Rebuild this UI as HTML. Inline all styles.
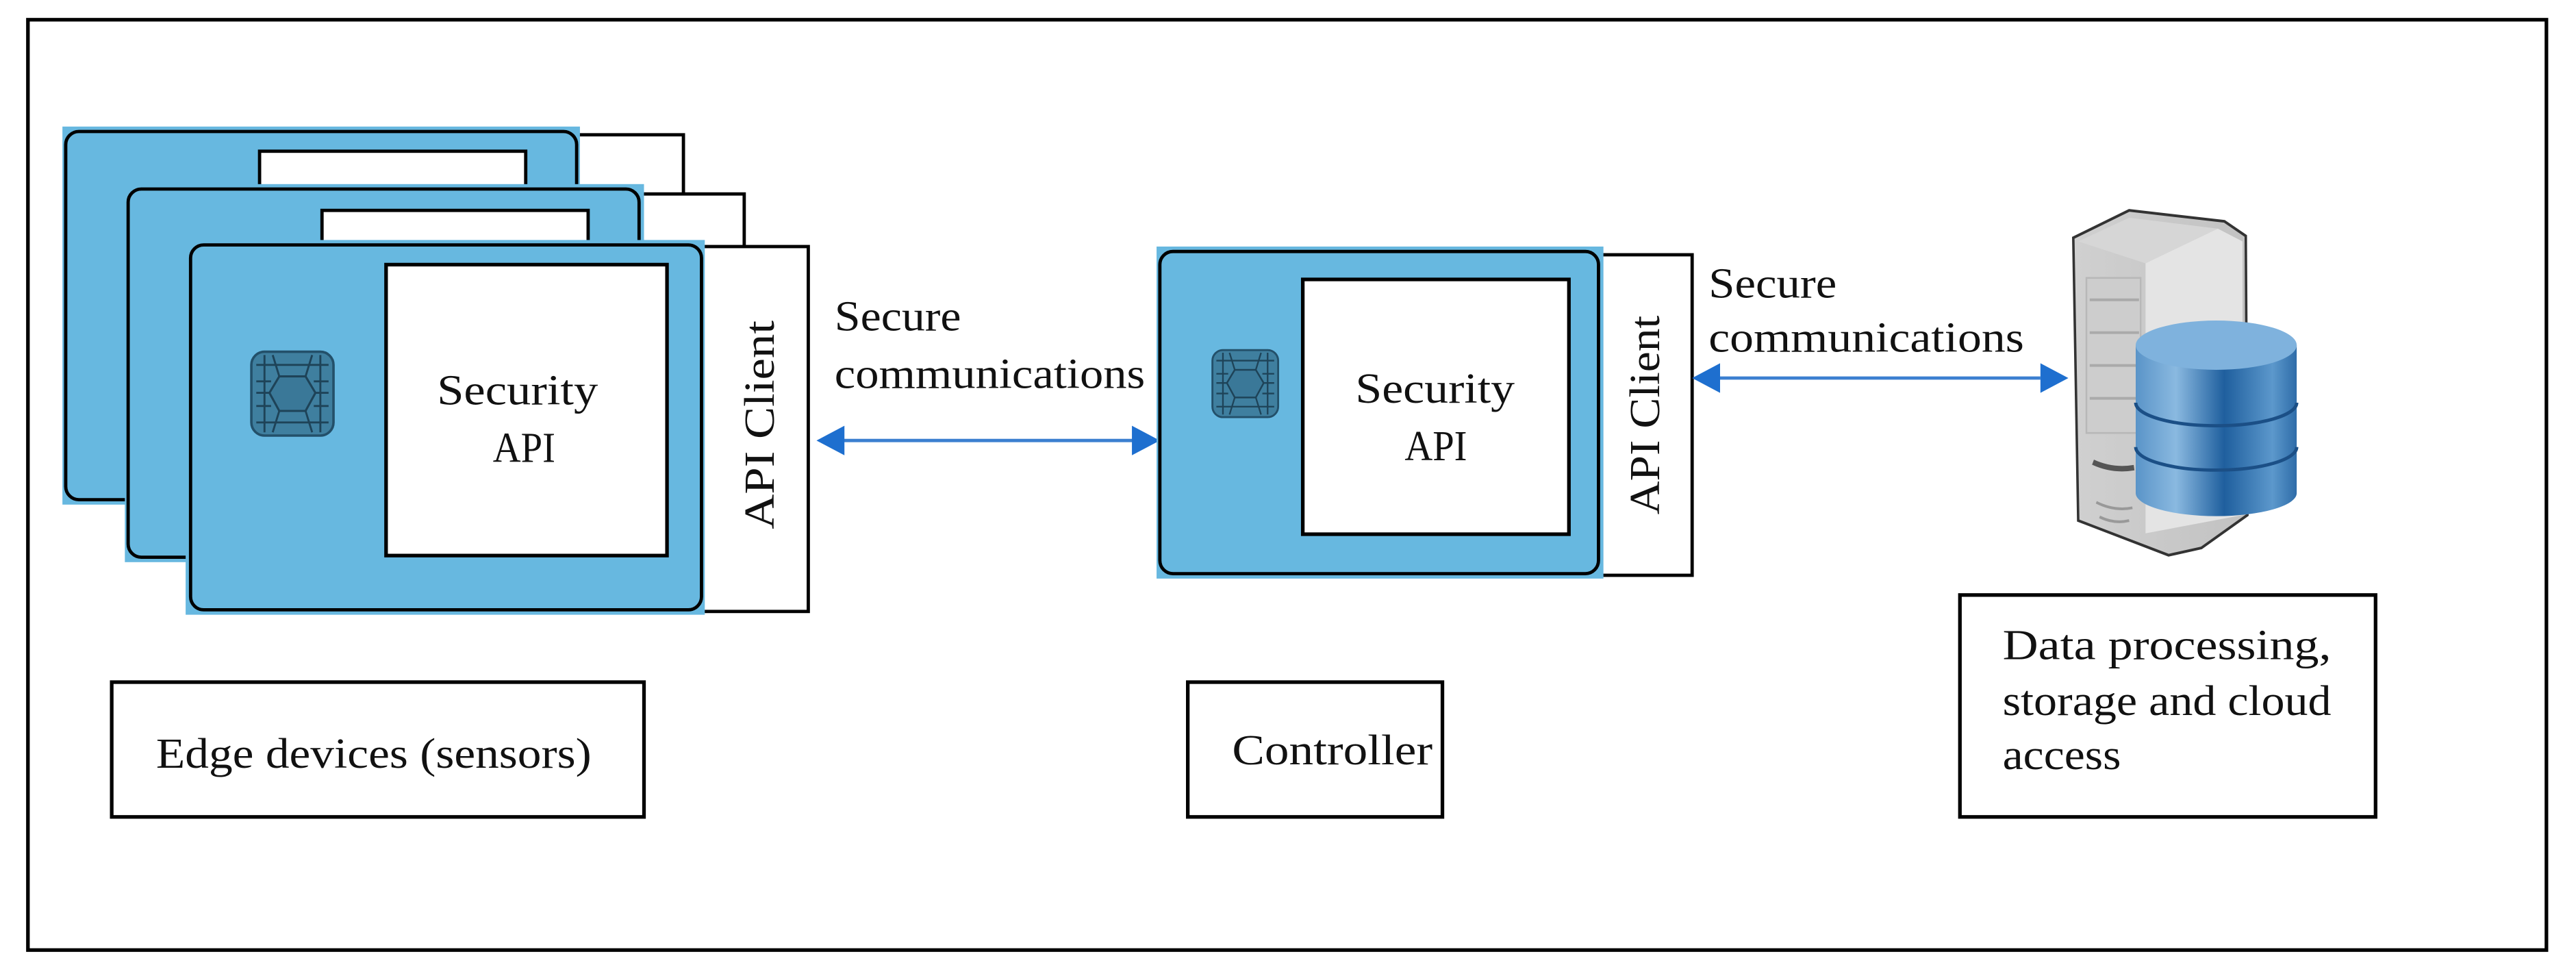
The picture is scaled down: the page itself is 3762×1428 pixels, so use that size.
<!DOCTYPE html>
<html><head><meta charset="utf-8"><style>
html,body{margin:0;padding:0;background:#fff;}
svg{display:block;}
text{font-family:"Liberation Serif",serif;fill:#111;}
</style></head><body>
<svg width="3762" height="1428" viewBox="0 0 1568 595" preserveAspectRatio="none" xmlns="http://www.w3.org/2000/svg">
<defs>
<g id="chip">
<rect x="0" y="0" width="50" height="51" rx="8" fill="#3f7f9f" stroke="#23506a" stroke-width="1.5"/>
<polygon points="17,15 33,15 39,25 33,36 17,36 11,25" fill="#3a7898" stroke="#1e4358" stroke-width="1.3"/>
<path d="M3,8 H47 M3,18 H12 M38,18 H47 M3,25 H11 M39,25 H47 M3,33 H12 M38,33 H47 M3,43 H47 M17,15 L13,2 M33,15 L37,2 M17,36 L13,49 M33,36 L37,49 M8,2 V49 M42,2 V49" stroke="#1e4358" stroke-width="1.2" fill="none"/>
</g>
<linearGradient id="srv" x1="0" x2="1"><stop offset="0" stop-color="#d0d0d0"/><stop offset="1" stop-color="#c2c2c2"/></linearGradient>
<linearGradient id="dbg" x1="0" x2="1"><stop offset="0" stop-color="#5a94c8"/><stop offset="0.25" stop-color="#8ab9e0"/><stop offset="0.55" stop-color="#1f5f9e"/><stop offset="0.85" stop-color="#5c98cc"/><stop offset="1" stop-color="#2e6ca8"/></linearGradient>
</defs>
<rect x="17" y="12" width="1533" height="566" fill="none" stroke="#000" stroke-width="2.2"/>

<rect x="350" y="82" width="66" height="60" fill="#fff" stroke="#000" stroke-width="2"/>
<rect x="38" y="77" width="315" height="230" fill="#67b8e0"/>
<rect x="40" y="80" width="311" height="224" rx="8" fill="#67b8e0" stroke="#000" stroke-width="2"/>
<rect x="158" y="92" width="162" height="40" fill="#fff" stroke="#000" stroke-width="2"/>
<rect x="388" y="118" width="65" height="60" fill="#fff" stroke="#000" stroke-width="2"/>
<rect x="76" y="112" width="316" height="230" fill="#67b8e0"/>
<rect x="78" y="115" width="311" height="224" rx="8" fill="#67b8e0" stroke="#000" stroke-width="2"/>
<rect x="196" y="128" width="162" height="40" fill="#fff" stroke="#000" stroke-width="2"/>
<rect x="427" y="150" width="65" height="222" fill="#fff" stroke="#000" stroke-width="2"/>
<rect x="113" y="146" width="316" height="228" fill="#67b8e0"/>
<rect x="116" y="149" width="311" height="222" rx="8" fill="#67b8e0" stroke="#000" stroke-width="2"/>
<rect x="235" y="161" width="171" height="177" fill="#fff" stroke="#000" stroke-width="2.2"/>
<use href="#chip" x="153" y="214"/>
<text x="266" y="246" font-size="26" textLength="98" lengthAdjust="spacingAndGlyphs">Security</text>
<text x="300" y="281" font-size="26" textLength="38" lengthAdjust="spacingAndGlyphs">API</text>
<text transform="translate(471,322) rotate(-90)" font-size="26" textLength="127" lengthAdjust="spacingAndGlyphs">API Client</text>

<text x="508" y="201" font-size="26" textLength="77" lengthAdjust="spacingAndGlyphs">Secure</text>
<text x="508" y="236" font-size="26" textLength="189" lengthAdjust="spacingAndGlyphs">communications</text>
<line x1="510" y1="268" x2="690" y2="268" stroke="#3b7fd0" stroke-width="2"/>
<polygon points="497,268 514,259 514,277" fill="#1e6fcf"/>
<polygon points="706,268 689,259 689,277" fill="#1e6fcf"/>

<rect x="973" y="155" width="57" height="195" fill="#fff" stroke="#000" stroke-width="2"/>
<rect x="704" y="150" width="272" height="202" fill="#67b8e0"/>
<rect x="706" y="153" width="267" height="196" rx="8" fill="#67b8e0" stroke="#000" stroke-width="2"/>
<rect x="793" y="170" width="162" height="155" fill="#fff" stroke="#000" stroke-width="2.2"/>
<use href="#chip" transform="translate(738,213) scale(0.8)"/>
<text x="825" y="245" font-size="26" textLength="97" lengthAdjust="spacingAndGlyphs">Security</text>
<text x="855" y="280" font-size="26" textLength="38" lengthAdjust="spacingAndGlyphs">API</text>
<text transform="translate(1010,313) rotate(-90)" font-size="26" textLength="121" lengthAdjust="spacingAndGlyphs">API Client</text>

<text x="1040" y="181" font-size="26" textLength="78" lengthAdjust="spacingAndGlyphs">Secure</text>
<text x="1040" y="214" font-size="26" textLength="192" lengthAdjust="spacingAndGlyphs">communications</text>
<line x1="1045" y1="230" x2="1242" y2="230" stroke="#3b7fd0" stroke-width="2"/>
<polygon points="1030,230 1047,221 1047,239" fill="#1e6fcf"/>
<polygon points="1259,230 1242,221 1242,239" fill="#1e6fcf"/>

<g transform="translate(0,128) scale(1,1.11) translate(0,-123)">
<path d="M1262,138 L1296,123 L1354,129 L1367,137 L1368,290 L1340,308 L1320,312 L1265,293 Z" fill="url(#srv)" stroke="#333" stroke-width="1.5"/>
<path d="M1265,140 L1296,127 L1350,133 L1306,152 Z" fill="#d6d6d6"/>
<path d="M1306,152 L1350,133 L1365,140 L1365,290 L1306,300 Z" fill="#e4e4e4"/>
<rect x="1270" y="160" width="33" height="85" fill="#cdcdcd" stroke="#b8b8b8"/>
<path d="M1272,172 H1302 M1272,190 H1302 M1272,208 H1302 M1272,226 H1302" stroke="#aaa" stroke-width="1.5"/>
<path d="M1274,261 Q1286,266 1299,264" stroke="#555" stroke-width="3" fill="none"/>
<path d="M1276,283 Q1287,288 1298,286 M1278,291 Q1287,295 1296,293" stroke="#999" stroke-width="1.5" fill="none"/>
</g>
<path d="M1300,210 V300 A49,14 0 0 0 1398,300 V210 Z" fill="url(#dbg)"/>
<ellipse cx="1349" cy="210" rx="49" ry="15" fill="#7fb2dd"/>
<path d="M1300,245 A49,14 0 0 0 1398,245 M1300,272 A49,14 0 0 0 1398,272" stroke="#1b4f86" stroke-width="2" fill="none"/>

<rect x="68" y="415" width="324" height="82" fill="#fff" stroke="#000" stroke-width="2.2"/>
<text x="95" y="467" font-size="26" textLength="265" lengthAdjust="spacingAndGlyphs">Edge devices (sensors)</text>
<rect x="723" y="415" width="155" height="82" fill="#fff" stroke="#000" stroke-width="2.2"/>
<text x="750" y="465" font-size="26" textLength="122" lengthAdjust="spacingAndGlyphs">Controller</text>
<rect x="1193" y="362" width="253" height="135" fill="#fff" stroke="#000" stroke-width="2.2"/>
<text x="1219" y="401" font-size="26" textLength="200" lengthAdjust="spacingAndGlyphs">Data  processing,</text>
<text x="1219" y="435" font-size="26" textLength="200" lengthAdjust="spacingAndGlyphs">storage and cloud</text>
<text x="1219" y="468" font-size="26" textLength="72" lengthAdjust="spacingAndGlyphs">access</text>
</svg>
</body></html>
